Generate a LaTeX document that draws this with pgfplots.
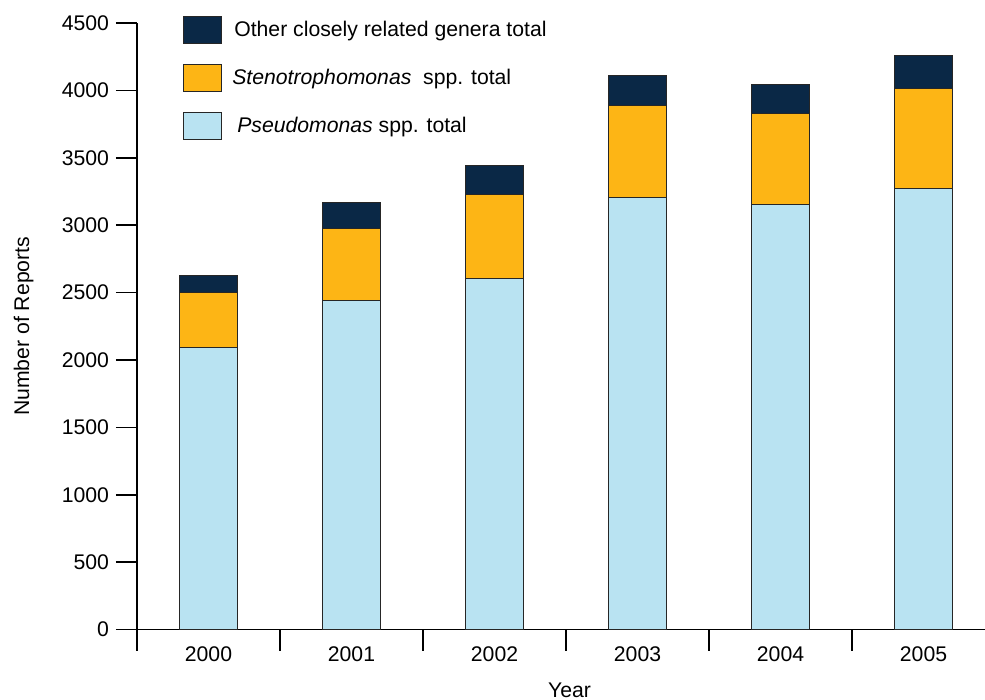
\documentclass[border=0pt]{standalone}
\usepackage{fontspec}
\setmainfont{Liberation Sans}
\usepackage{pgfplots}
\pgfplotsset{compat=1.18}
\usepackage{pgfplotstable}
\definecolor{navy}{HTML}{0A2846}
\definecolor{gold}{HTML}{FDB515}
\definecolor{lblue}{HTML}{B9E3F2}
\pgfplotstableread{
x pseudo steno other
0 2096 404 126
1 2440 535 190
2 2606 618 220
3 3205 684 225
4 3155 673 219
5 3274 739 245
}\data
\begin{document}
\begin{tikzpicture}[font=\fontsize{10.6}{12.7}\selectfont]
\begin{axis}[
 scale only axis, width=424pt, height=303.3pt,
 ybar stacked, bar width=29pt,
 xmin=-0.5, xmax=5.43, ymin=0, ymax=4500,
 axis x line*=bottom, axis y line*=left,
 axis line style={line width=0.8pt},
 xtick={-0.5,0.5,...,4.5}, xticklabels={},
 extra x ticks={0,1,2,3,4,5},
 extra x tick labels={2000,2001,2002,2003,2004,2005},
 extra x tick style={major tick length=0pt, tick label style={yshift=-5pt}},
 ytick={0,500,...,4500},
 tick align=outside, major tick length=10.5pt,
 tick style={line width=0.8pt, black},
 yticklabel style={/pgf/number format/1000 sep={}},
 /pgf/number format/assume math mode=true,
 ylabel={Number of Reports}, xlabel={Year},
 ylabel style={at={(axis description cs:-0.1336,0.5)}, anchor=center},
 xlabel style={at={(axis description cs:0.51,0)}, anchor=base, yshift=-34pt},
 legend style={draw=none, fill=none, at={(axis description cs:0.0539,1.012)}, anchor=north west,
   row sep=9.9pt, inner sep=0pt, legend cell align=left},
 legend image code/.code={\draw[#1, line width=0.6pt] (0pt,-6.75pt) rectangle (19pt,6.75pt);},
 reverse legend,
]
\addplot[fill=lblue, draw=black!85, line width=0.5pt] table[x=x,y=pseudo]{\data};
\addlegendentry{\hspace{5.5pt}\textit{Pseudomonas} spp. total}
\addplot[fill=gold, draw=black!85, line width=0.5pt] table[x=x,y=steno]{\data};
\addlegendentry{\hspace{3pt}\textit{Stenotrophomonas}\ \ spp. total}
\addplot[fill=navy, draw=black!85, line width=0.5pt] table[x=x,y=other]{\data};
\addlegendentry{\hspace{4pt}Other closely related genera total}
\end{axis}
\pgfresetboundingbox
\path[use as bounding box] (-68.5pt,-35.2pt) rectangle (424pt,314.8pt);
\end{tikzpicture}
\end{document}
